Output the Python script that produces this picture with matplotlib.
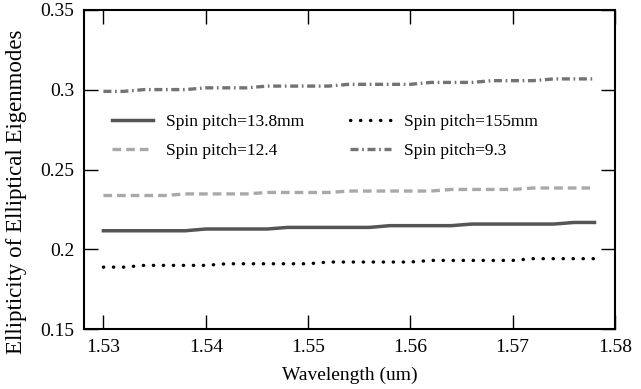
import matplotlib
matplotlib.use('Agg')
import matplotlib.pyplot as plt

# wavelength samples (um)
wavelength = [1.530, 1.532, 1.534, 1.536, 1.538, 1.540, 1.542, 1.544, 1.546,
              1.548, 1.550, 1.552, 1.554, 1.556, 1.558, 1.560, 1.562, 1.564,
              1.566, 1.568, 1.570, 1.572, 1.574, 1.576, 1.578]

# ellipticity
pitch_13_8mm = [0.2116, 0.2116, 0.2116, 0.2116, 0.2116, 0.2127, 0.2127, 0.2127, 0.2127,
                0.2137, 0.2137, 0.2137, 0.2137, 0.2137, 0.2148, 0.2148, 0.2148, 0.2148,
                0.2158, 0.2158, 0.2158, 0.2158, 0.2158, 0.2168, 0.2168]
pitch_12_4 = [0.2337, 0.2337, 0.2337, 0.2337, 0.2347, 0.2347, 0.2347, 0.2347, 0.2356,
              0.2356, 0.2356, 0.2356, 0.2365, 0.2365, 0.2365, 0.2365, 0.2365, 0.2375,
              0.2375, 0.2375, 0.2375, 0.2384, 0.2384, 0.2384, 0.2384]
pitch_155mm = [0.1888, 0.1888, 0.1899, 0.1899, 0.1899, 0.1899, 0.1909, 0.1909, 0.1909,
               0.1909, 0.1909, 0.1920, 0.1920, 0.1920, 0.1920, 0.1920, 0.1930, 0.1930,
               0.1930, 0.1930, 0.1930, 0.1941, 0.1941, 0.1941, 0.1941]
pitch_9_3 = [0.2990, 0.2990, 0.3001, 0.3001, 0.3001, 0.3012, 0.3012, 0.3012, 0.3023,
             0.3023, 0.3023, 0.3023, 0.3034, 0.3034, 0.3034, 0.3034, 0.3046, 0.3046,
             0.3046, 0.3057, 0.3057, 0.3057, 0.3068, 0.3068, 0.3068]

labels = ['Spin pitch=13.8mm', 'Spin pitch=12.4', 'Spin pitch=155mm', 'Spin pitch=9.3']
xticks = [1.53, 1.54, 1.55, 1.56, 1.57, 1.58]
yticks = [0.15, 0.2, 0.25, 0.3, 0.35]

plt.rcParams['font.family'] = 'Liberation Serif'

fig = plt.figure(figsize=(6.41, 3.89), dpi=100)
ax = fig.add_axes([0.131, 0.1542, 0.8284, 0.8201])

ax.plot(wavelength, pitch_13_8mm, color='#555555', lw=2.5, label=labels[0])
ax.plot(wavelength, pitch_12_4, color='#a9a9a9', lw=2.4, ls=(0, (2.6, 1.5)), label=labels[1])
ax.plot(wavelength, pitch_155mm, color='black', lw=2.4, ls=(0, (0.1, 2.9)),
        dash_capstyle='round', label=labels[2])
ax.plot(wavelength, pitch_9_3, color='#737373', lw=2.4, ls=(0, (2.4, 1.1, 0.5, 1.1)),
        label=labels[3])

ax.set_xlim(1.5281, 1.58)
ax.set_ylim(0.15, 0.35)
ax.set_xticks(xticks)
ax.set_xticklabels(['1.53', '1.54', '1.55', '1.56', '1.57', '1.58'])
ax.set_yticks(yticks)
ax.set_yticklabels(['0.15', '0.2', '0.25', '0.3', '0.35'])
ax.tick_params(direction='in', top=True, right=True, length=10, width=1,
               labelsize=14, pad=7)
for s in ax.spines.values():
    s.set_linewidth(1.5)

ax.set_xlabel('Wavelength (um)', fontsize=14, labelpad=8)
ax.set_ylabel('Ellipticity of Elliptical Eigenmodes', fontsize=16.5)
ax.yaxis.set_label_coords(-0.107, 0.43)

handles, labs = ax.get_legend_handles_labels()
ax.legend(handles, labs, ncol=2, frameon=False, fontsize=12.5,
          loc='upper left', bbox_to_anchor=(0.052, 0.674), borderaxespad=0,
          borderpad=0, handlelength=2.4, handletextpad=0.75,
          columnspacing=2.6, labelspacing=0.75)

fig.savefig('out.png', dpi=100)
